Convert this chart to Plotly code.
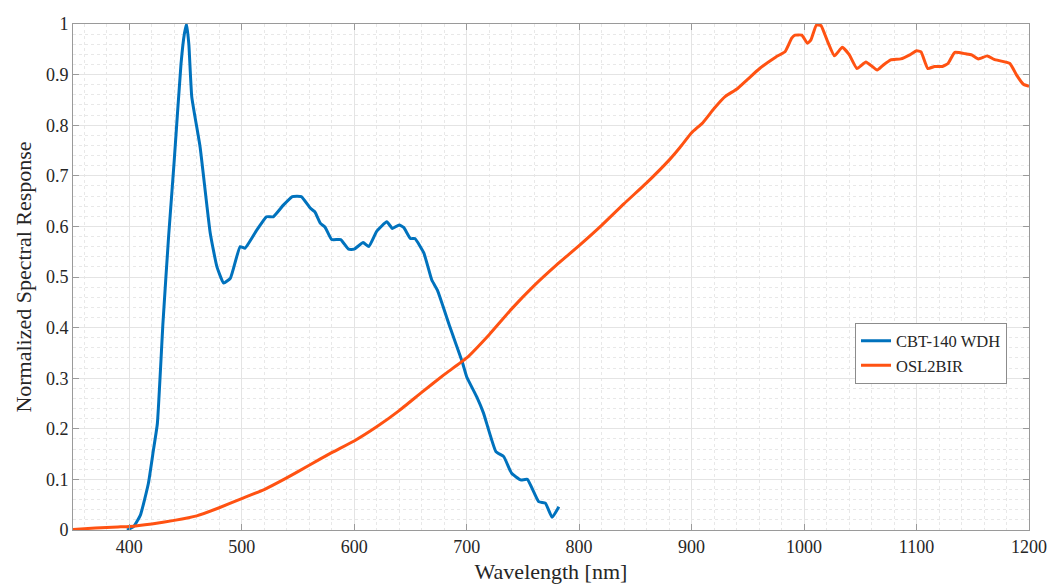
import plotly.graph_objects as go

# ---- data ----
cbt_wl = [398, 404, 410, 417, 421.5, 425, 430, 435, 440, 446, 449, 451, 453, 455.6, 463, 472, 478,
          484, 490, 498.6, 503, 513.5, 522, 528, 537, 545, 553, 561, 565, 570, 574, 580, 588, 595,
          600, 608, 613, 620, 629, 634, 640, 644, 650, 654, 662, 669, 674, 685, 696, 700, 709, 715,
          726, 733, 740, 748, 754, 764, 770, 776, 782]
cbt_resp = [0.0, 0.007, 0.03, 0.092, 0.158, 0.21, 0.41, 0.58, 0.73, 0.92, 0.98, 1.0, 0.96, 0.856,
            0.757, 0.587, 0.52, 0.488, 0.498, 0.56, 0.557, 0.593, 0.619, 0.619, 0.642, 0.659, 0.659,
            0.636, 0.629, 0.606, 0.599, 0.574, 0.574, 0.555, 0.555, 0.568, 0.560, 0.590, 0.609,
            0.596, 0.603, 0.598, 0.576, 0.576, 0.547, 0.494, 0.474, 0.402, 0.333, 0.303, 0.263,
            0.231, 0.155, 0.145, 0.112, 0.099, 0.100, 0.056, 0.053, 0.025, 0.046]

osl_wl = [350, 370, 390, 400, 420, 440, 460, 480, 500, 520, 540, 560, 580, 600, 620, 640, 660, 680,
          700, 720, 740, 760, 780, 800, 820, 840, 860, 880, 890, 900, 910, 920, 930, 940, 950, 960,
          975, 983, 989, 992, 998, 1003, 1006, 1011, 1015, 1021, 1027, 1034, 1040, 1047, 1055,
          1065, 1070, 1077, 1086, 1094, 1100, 1104, 1110, 1116, 1123, 1128, 1134, 1144, 1149,
          1155, 1163, 1169, 1183, 1189, 1195, 1200]
osl_resp = [0.001, 0.004, 0.006, 0.007, 0.012, 0.019, 0.028, 0.044, 0.062, 0.080, 0.103, 0.128,
            0.153, 0.176, 0.204, 0.236, 0.272, 0.307, 0.340, 0.386, 0.437, 0.483, 0.524, 0.562,
            0.602, 0.645, 0.686, 0.731, 0.757, 0.785, 0.805, 0.833, 0.857, 0.871, 0.891, 0.911,
            0.935, 0.945, 0.972, 0.978, 0.978, 0.962, 0.968, 0.998, 0.997, 0.965, 0.937, 0.954,
            0.940, 0.912, 0.925, 0.909, 0.918, 0.929, 0.931, 0.939, 0.947, 0.945, 0.912, 0.916,
            0.916, 0.922, 0.944, 0.941, 0.939, 0.931, 0.937, 0.930, 0.922, 0.899, 0.881, 0.877]

series_names = ["CBT-140 WDH", "OSL2BIR"]
x_ticks = [400, 500, 600, 700, 800, 900, 1000, 1100, 1200]
y_ticks = [0, 0.1, 0.2, 0.3, 0.4, 0.5, 0.6, 0.7, 0.8, 0.9, 1]
y_tick_labels = ["0", "0.1", "0.2", "0.3", "0.4", "0.5", "0.6", "0.7", "0.8", "0.9", "1"]

FONT = "Liberation Serif"
AXC = "#9a9a9a"

fig = go.Figure()
fig.add_trace(go.Scatter(x=cbt_wl, y=cbt_resp, mode="lines", name=series_names[0],
                         line=dict(color="#0072BD", width=3, shape="spline", smoothing=0.4)))
fig.add_trace(go.Scatter(x=osl_wl, y=osl_resp, mode="lines", name=series_names[1],
                         line=dict(color="#FF5212", width=3, shape="spline", smoothing=0.4)))

fig.update_layout(
    width=1061, height=586,
    margin=dict(l=73, r=32, t=24, b=56, autoexpand=False),
    paper_bgcolor="white", plot_bgcolor="white",
    font=dict(family=FONT, size=18, color="#262626"),
    showlegend=True,
    legend=dict(x=0.977, y=0.41, xanchor="right", yanchor="top",
                bgcolor="white", bordercolor="#8c8c8c", borderwidth=1,
                font=dict(family=FONT, size=16.5, color="#262626"),
                tracegroupgap=0, itemwidth=30),
)
fig.update_xaxes(
    range=[350, 1200], tickvals=x_ticks, ticks="inside", ticklen=6, tickcolor=AXC,
    showline=True, linecolor=AXC, linewidth=1, mirror="ticks", automargin=False,
    showgrid=True, gridcolor="#e4e4e4", gridwidth=1, zeroline=False,
    minor=dict(dtick=20, tick0=400, showgrid=True, gridcolor="#e8e8e8", griddash="dot", ticks=""),
    title=dict(text="Wavelength [nm]", font=dict(family=FONT, size=22), standoff=8),
    tickfont=dict(family=FONT, size=18),
)
fig.update_yaxes(
    range=[0, 1], tickvals=y_ticks, ticktext=y_tick_labels, ticks="inside", ticklen=6,
    tickcolor=AXC, showline=True, linecolor=AXC, linewidth=1, mirror="ticks", automargin=False,
    showgrid=True, gridcolor="#e4e4e4", gridwidth=1, zeroline=False,
    minor=dict(dtick=0.02, tick0=0, showgrid=True, gridcolor="#e8e8e8", griddash="dot", ticks=""),
    title=dict(text="Normalized Spectral Response", font=dict(family=FONT, size=22), standoff=8),
    tickfont=dict(family=FONT, size=18),
)

fig.write_html("out.html")
